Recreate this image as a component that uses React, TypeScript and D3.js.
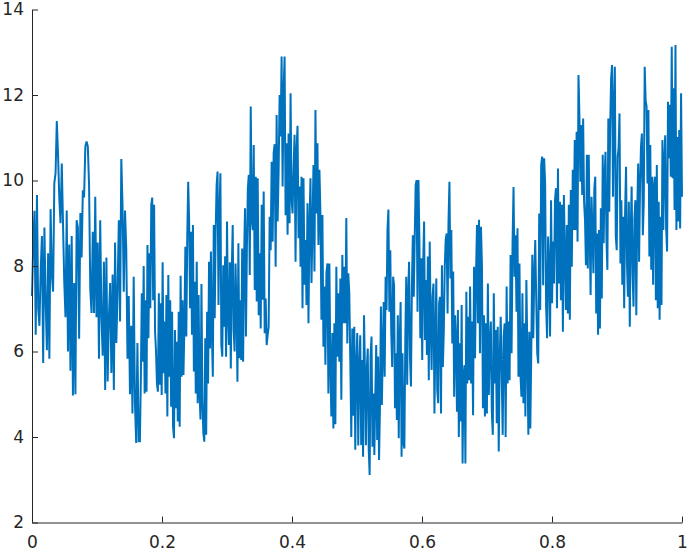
import React, { useEffect, useRef } from 'react';
import * as d3 from 'd3';

// signal, one array per stretch of the time axis
const seg1 = [7.3, 8.5, 9.29, 6.39, 9.66, 7.0, 6.6, 7.9, 8.7, 5.73, 8.9, 7.2, 6.03, 8.3, 5.83, 9.33, 7.8, 7.4, 9.94, 10.17, 11.39, 10.6, 9.6, 9.0, 10.4, 9.0, 7.63, 6.8, 9.3, 6.0, 8.5, 5.55, 8.7, 4.97, 7.6, 5.0, 9.07, 8.9, 6.3, 9.24, 8.2, 9.77, 9.6, 10.79, 10.91, 10.8, 9.9, 7.45, 6.9, 8.8, 6.9, 9.62, 6.8, 8.55, 5.83, 9.07, 6.8, 5.9, 8.1, 5.1, 8.2, 5.3, 6.8, 7.6, 5.5, 7.8, 5.1, 8.55, 6.2, 7.4, 9.07, 6.7, 10.5, 9.4, 7.4, 9.3, 8.4, 5.83, 7.3, 5.0, 6.6, 4.55, 7.75, 4.8, 3.86, 6.2, 3.9];
const seg2 = [3.9, 5.37, 7.36, 5.76, 8.0, 5.02, 7.2, 5.06, 8.49, 6.31, 8.3, 7.01, 9.43, 9.6, 7.2, 9.43, 6.46, 6.03, 5.25, 5.06, 7.36, 5.22, 7.13, 4.98, 8.09, 5.49, 6.7, 5.02, 7.32, 4.48, 7.79, 5.41, 7.2, 4.71, 6.93, 4.24, 3.97, 6.5, 4.67, 6.23, 4.36, 6.93, 4.24, 7.77, 5.41, 7.2, 5.45, 6.58, 8.45, 6.35, 8.65, 9.97, 9.04, 7.01, 8.8, 6.39, 8.96, 5.53, 7.63, 5.02, 8.1, 4.79, 7.32, 5.02, 4.41, 7.58, 4.86, 4.09, 3.89, 6.31, 4.05, 6.93, 5.25, 8.1, 6.07, 8.34, 6.46, 5.41, 8.96, 6.78, 8.8, 9.89, 10.21, 7.09, 9.22, 10.17, 6.15, 5.88, 8.02, 6.58, 8.23, 5.88, 9.04, 6.89, 6.15, 8.09, 5.6, 7.87, 8.96, 6.5, 6.0, 8.06, 7.01, 5.29, 8.53, 5.84, 7.2, 5.8, 8.41, 5.76, 8.14, 9.35, 6.35, 8.45, 9.82, 10.13];
const seg3 = [7.79, 11.73, 9.08, 8.84, 10.83, 7.44, 10.09, 7.17, 10.05, 6.85, 8.3, 6.54, 9.43, 7.21, 9.74, 6.43, 7.24, 6.15, 6.39, 6.58, 9.15, 8.37, 10.44, 8.57, 10.64, 10.85, 7.98, 11.53, 9.04, 10.21, 12.0, 11.03, 12.9, 9.86, 12.08, 12.9, 9.19, 10.87, 8.73, 11.1, 9.0, 12.04, 9.58, 9.23, 10.25, 11.07, 8.1, 10.71, 11.28, 8.65, 9.86, 7.98, 10.09, 7.01, 10.05, 7.56, 8.61, 7.09, 9.47, 6.66, 9.0, 10.05, 7.6, 8.88, 10.36, 7.87, 11.65, 9.23, 10.87, 8.49, 10.25, 9.23, 6.74, 9.19, 6.11, 7.52, 5.69, 7.83, 8.06, 5.02, 8.06, 5.61, 4.48, 6.43, 4.2, 6.66, 4.3, 7.98, 5.88, 7.36, 5.76, 7.71, 4.87, 8.26, 6.66, 7.98, 6.66, 9.12, 6.19, 7.83, 7.36, 5.8, 4.0, 6.54, 4.5, 6.58, 3.7, 5.69, 6.43, 3.8, 5.65];
const seg4 = [6.38, 3.81, 5.8, 3.54, 6.85, 5.57, 3.81, 5.61, 6.07, 3.73, 3.11, 5.88, 6.35, 3.77, 5.02, 3.58, 4.94, 6.15, 3.93, 5.88, 3.46, 4.71, 7.05, 4.75, 6.03, 7.16, 5.41, 7.75, 6.97, 8.84, 9.32, 6.93, 8.37, 6.46, 5.64, 7.75, 7.55, 4.67, 5.96, 4.4, 6.85, 3.97, 6.19, 7.16, 3.54, 5.96, 3.85, 3.73, 6.35, 7.75, 5.22, 7.28, 8.1, 5.84, 5.18, 7.52, 8.72, 7.28, 8.65, 9.89, 10.01, 6.93, 10.01, 8.61, 6.31, 8.18, 5.8, 8.02, 9.04, 6.27, 7.67, 5.92, 8.22, 5.33, 8.57, 6.66, 5.57, 7.28, 7.59, 4.55, 6.19, 7.71, 5.1, 4.79, 7.13, 7.28, 4.55, 8.02, 5.64, 6.5, 7.98, 8.61, 8.76, 6.89, 9.04, 9.97, 7.71, 8.84, 6.19, 7.87, 4.94, 6.85, 6.27, 4.59, 6.97, 4.0, 6.19, 4.36, 7.09, 3.38, 5.41, 5.68, 3.38, 7.4, 5.25, 6.81, 5.33];
const seg5 = [7.52, 5.25, 6.7, 4.51, 7.98, 5.84, 7.83, 8.96, 6.66, 9.08, 5.96, 8.92, 8.02, 4.67, 6.85, 4.48, 6.66, 4.55, 7.59, 4.98, 6.19, 6.7, 4.59, 4.05, 7.36, 5.25, 6.5, 4.32, 6.58, 3.66, 5.84, 6.81, 5.49, 4.05, 6.35, 6.66, 4.0, 7.52, 5.25, 6.7, 5.33, 8.26, 5.96, 8.53, 9.85, 7.75, 8.72, 6.93, 8.88, 5.41, 8.06, 5.45, 4.94, 7.36, 4.79, 6.66, 4.48, 7.67, 5.99, 4.05, 6.46, 4.2, 6.03, 8.26, 6.31, 7.79, 8.61, 7.2, 5.96, 5.72, 9.23, 6.97, 10.36, 10.56, 7.55, 10.52, 9.93, 7.05, 6.31, 8.69, 8.02, 6.35, 9.54, 7.13, 8.57, 7.59, 9.54, 9.82, 7.01, 10.28, 7.59, 9.5, 7.2, 9.43, 6.46, 9.66, 8.3, 6.97, 8.96, 6.89, 9.43, 6.74, 9.78, 7.98, 10.25, 8.84];
const seg6 = [10.95, 8.84, 11.14, 8.57, 12.47, 11.53, 9.97, 11.3, 9.66, 11.45, 9.5, 9.08, 8.02, 10.6, 7.94, 10.6, 8.8, 7.32, 9.62, 8.8, 7.83, 9.82, 10.09, 6.89, 8.76, 6.39, 8.84, 6.54, 9.35, 7.24, 10.6, 8.53, 10.09, 10.67, 8.61, 7.91, 11.45, 9.27, 11.3, 12.39, 12.7, 9.62, 11.73, 12.66, 8.69, 8.37, 10.56, 10.75, 11.57, 8.06, 9.54, 7.56, 9.15, 7.01, 9.27, 10.32, 8.06, 7.28, 9.5, 6.58, 8.8, 9.86, 7.83, 7.05, 9.11, 9.54, 6.85, 9.27, 10.4, 8.1, 9.86, 10.79, 11.1, 8.72, 9.47, 12.66, 11.88, 11.73, 9.93, 11.65, 8.22, 10.83, 7.91, 10.09, 7.56, 9.86, 10.09, 7.2, 10.36, 7.01, 9.5, 6.74, 9.15, 7.09, 10.95, 8.84, 10.44, 11.06, 8.88, 8.34, 11.84, 10.52, 11.77, 10.09, 13.13, 10.05, 12.16, 9.31, 13.17, 8.84, 11.02, 9.04, 11.18, 8.88, 12.04, 9.62];
// where each stretch starts on the time axis
const segStarts = [0, 0.166, 0.335, 0.505, 0.674, 0.835, 1];

const xTicks = [0, 0.2, 0.4, 0.6, 0.8, 1];
const yTicks = [2, 4, 6, 8, 10, 12, 14];

const W = 690;
const H = 552;
const margin = { top: 9.5, right: 8, bottom: 29.5, left: 32 };

function buildSeries() {
  const segs = [seg1, seg2, seg3, seg4, seg5, seg6];
  const pts: [number, number][] = [];
  segs.forEach((vals, i) => {
    const t0 = segStarts[i];
    const t1 = segStarts[i + 1];
    const last = i === segs.length - 1;
    const n = last ? vals.length - 1 : vals.length;
    vals.forEach((v, j) => {
      pts.push([t0 + (t1 - t0) * j / n, v]);
    });
  });
  return pts;
}

function Chart() {
  const ref = useRef<SVGSVGElement | null>(null);

  useEffect(() => {
    const svg = d3.select(ref.current);
    svg.selectAll('*').remove();

    const x = d3.scaleLinear().domain([0, 1]).range([margin.left, W - margin.right]);
    const y = d3.scaleLinear().domain([2, 14]).range([H - margin.bottom, margin.top]);

    const data = buildSeries();
    const line = d3.line<[number, number]>()
      .x(d => x(d[0]))
      .y(d => y(d[1]));

    svg.append('path')
      .datum(data)
      .attr('d', line)
      .attr('fill', 'none')
      .attr('stroke', '#0072BD')
      .attr('stroke-width', 2)
      .attr('stroke-linejoin', 'miter');

    const axisColor = '#262626';

    const gx = svg.append('g')
      .attr('transform', `translate(0,${H - margin.bottom})`)
      .call(d3.axisBottom(x).tickValues(xTicks).tickFormat(d3.format('~g'))
        .tickSizeInner(-6).tickSizeOuter(0).tickPadding(13.5));

    const gy = svg.append('g')
      .attr('transform', `translate(${margin.left},0)`)
      .call(d3.axisLeft(y).tickValues(yTicks).tickFormat(d3.format('~g'))
        .tickSizeInner(-6).tickSizeOuter(0).tickPadding(8));

    [gx, gy].forEach(g => {
      g.select('.domain').attr('stroke', axisColor).attr('stroke-width', 1);
      g.selectAll('.tick line').attr('stroke', axisColor);
      g.selectAll('.tick text')
        .attr('fill', axisColor)
        .style('font-family', '"DejaVu Sans", sans-serif')
        .style('font-size', '17px');
    });
  }, []);

  return <svg ref={ref} width={W} height={H} style={{ position: 'absolute', left: 0, top: 0, background: '#fff' }} />;
}

export default function App() {
  return <Chart />;
}
